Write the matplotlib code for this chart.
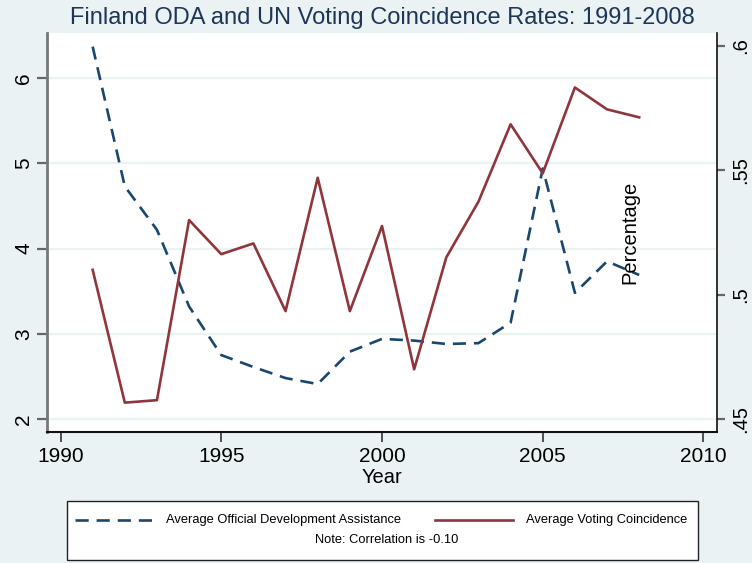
import matplotlib
matplotlib.use("Agg")
import matplotlib.pyplot as plt
from matplotlib.patches import Rectangle

# ---- data ----
years = [1991, 1992, 1993, 1994, 1995, 1996, 1997, 1998, 1999, 2000,
         2001, 2002, 2003, 2004, 2005, 2006, 2007, 2008]
oda = [6.37, 4.73, 4.22, 3.32, 2.75, 2.61, 2.48, 2.41, 2.79, 2.94,
       2.92, 2.88, 2.89, 3.13, 4.94, 3.48, 3.85, 3.69]
voting = [0.510, 0.4566, 0.4576, 0.530, 0.5163, 0.5206, 0.4934, 0.547, 0.4934, 0.5276,
          0.470, 0.515, 0.5374, 0.5685, 0.5488, 0.5833, 0.5745, 0.5713]
x_ticks = [1990, 1995, 2000, 2005, 2010]
left_ticks = [2, 3, 4, 5, 6]
right_ticks = [0.45, 0.5, 0.55, 0.6]
right_ticklabels = [".45", ".5", ".55", ".6"]

title = "Finland ODA and UN Voting Coincidence Rates: 1991-2008"
oda_label = "Average Official Development Assistance"
vote_label = "Average Voting Coincidence"
note = "Note: Correlation is -0.10"

BG = "#eaf2f3"
NAVY = "#1a476f"
MAROON = "#90353b"
FONT = ["Liberation Sans", "DejaVu Sans"]
plt.rcParams["font.family"] = FONT

W, H = 752, 563
fig = plt.figure(figsize=(W / 100, H / 100), dpi=100, facecolor=BG)

def fx(px):
    return px / W

def fy(py):
    return 1 - py / H

ax = fig.add_axes([fx(47), fy(432), fx(717 - 47), (432 - 33) / H])
ax.set_facecolor("white")
ax.set_xlim(1989.58, 2010.42)
ax.set_ylim(1.847, 6.53)

ax2 = ax.twinx()
ax2.set_ylim(0.4448, 0.6052)

l1, = ax.plot(years, oda, color=NAVY, lw=1.9, ls=(0, (5, 3)), zorder=3)
l2, = ax2.plot(years, voting, color=MAROON, lw=1.9, zorder=2)

# grid
ax.set_yticks(left_ticks)
ax.yaxis.grid(True, color=BG, lw=1.6)
ax.set_axisbelow(True)

ax.set_xticks(x_ticks)
ax.set_xticklabels([str(v) for v in x_ticks])
ax.tick_params(axis="x", length=7, width=1.2, color="#333333", labelsize=15, pad=4)
ax.tick_params(axis="y", length=7, width=1.6, color="#666666", labelsize=15,
               labelrotation=90, pad=3)
for lbl in ax.get_yticklabels():
    lbl.set_va("center")

ax2.set_yticks(right_ticks)
ax2.set_yticklabels(right_ticklabels)
ax2.tick_params(axis="y", length=6, width=1.6, color="#666666", labelsize=14.5,
                labelrotation=90, pad=4)
for lbl in ax2.get_yticklabels():
    lbl.set_va("center")

for s in ["top", "right"]:
    ax.spines[s].set_visible(False)
ax.spines["left"].set_color("#777777")
ax.spines["left"].set_linewidth(2)
ax.spines["bottom"].set_color("#111111")
ax.spines["bottom"].set_linewidth(1.5)
for s in ["top", "left", "bottom"]:
    ax2.spines[s].set_visible(False)
ax2.spines["right"].set_color("#111111")
ax2.spines["right"].set_linewidth(1.2)

ax.set_xlabel("Year", fontsize=14.5, labelpad=1)

fig.text(fx(382), fy(18), title, ha="center", va="center", fontsize=17,
         color="#1e3558")
fig.text(fx(630), fy(232), "Percentage", ha="center", va="center",
         rotation=90, fontsize=14.5)

# legend box
lx0, lx1, ly0, ly1 = 66, 698, 500, 560
lax = fig.add_axes([fx(lx0), fy(ly1), fx(lx1 - lx0), (ly1 - ly0) / H])
lax.set_xlim(lx0, lx1)
lax.set_ylim(ly1, ly0)
lax.axis("off")
lax.add_patch(Rectangle((lx0 + 0.5, ly0 + 0.5), lx1 - lx0 - 1, ly1 - ly0 - 1,
                        facecolor="white", edgecolor="#222222", lw=1.0,
                        clip_on=False))
lax.plot([75, 154], [520, 520], color=l1.get_color(), lw=1.9, ls=(0, (5, 3)))
lax.text(166, 520, oda_label, ha="left", va="center", fontsize=9.3)
lax.plot([435, 513], [520, 520], color=l2.get_color(), lw=1.9)
lax.text(526, 520, vote_label, ha="left", va="center", fontsize=9.3)
lax.text(387, 540, note, ha="center", va="center", fontsize=9.3)

fig.savefig("out.png", dpi=100, facecolor=BG)
